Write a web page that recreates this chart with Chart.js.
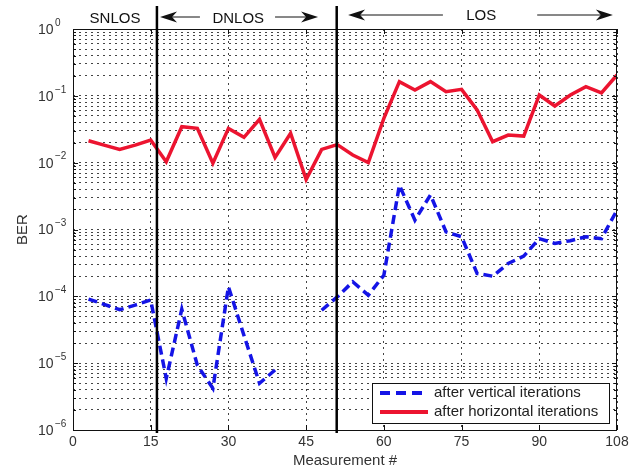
<!DOCTYPE html>
<html>
<head>
<meta charset="utf-8">
<script src="https://cdn.jsdelivr.net/npm/chart.js@4.4.0/dist/chart.umd.min.js"></script>
<style>
  html, body { margin: 0; padding: 0; background: #fff; }
  #wrap { width: 642px; height: 470px; }
</style>
</head>
<body>
<div id="wrap"><canvas id="berChart" width="642" height="470"></canvas></div>
<script>
// measurement index (x) and BER per series
const measurements = [3, 6, 9, 12, 15, 18, 21, 24, 27, 30, 33, 36, 39, 42, 45, 48, 51, 54,
    57, 60, 63, 66, 69, 72, 75, 78, 81, 84, 87, 90, 93, 96, 99, 102, 105];
const berVertical = [9.1e-5, 7.6e-5, 6.3e-5, 7.4e-5, 8.8e-5, 5.9e-6, 6.4e-5, 9.3e-6, 4.2e-6,
    1.39e-4, 2.6e-5, 5.0e-6, 7.9e-6, null, null, 6.2e-5, 9.8e-5, 1.65e-4, 1.04e-4, 2.07e-4,
    4.6e-3, 1.38e-3, 3.3e-3, 9.2e-4, 7.8e-4, 2.2e-4, 2.0e-4, 3.1e-4, 4.0e-4, 7.3e-4, 6.2e-4,
    6.8e-4, 7.8e-4, 7.3e-4, 1.95e-3];
const berHorizontal = [0.0213, 0.0183, 0.0158, 0.0183, 0.0218, 0.0103, 0.0345, 0.0326, 0.0098,
    0.0326, 0.0239, 0.0445, 0.0120, 0.0275, 0.0056, 0.0158, 0.0186, 0.0130, 0.0100, 0.046,
    0.163, 0.122, 0.163, 0.115, 0.125, 0.0613, 0.0206, 0.0259, 0.025, 0.103, 0.0704, 0.103,
    0.137, 0.111, 0.205];

const xTickValues = [0, 15, 30, 45, 60, 75, 90, 105];
const xTickLabels = ['0', '15', '30', '45', '60', '75', '90', '108'];
const yDecades = [-6, -5, -4, -3, -2, -1, 0];
const yMantissas = [1, 2, 3, 4, 5, 6, 7, 8, 9];

const regionBounds = [16.2, 50.9];
const regionNames = ['SNLOS', 'DNLOS', 'LOS'];
const seriesNames = ['after vertical iterations', 'after horizontal iterations'];

const FONT = "'Liberation Sans', Arial, Helvetica, sans-serif";
Chart.defaults.font.family = FONT;
Chart.defaults.color = '#333';

function isDecade(v) {
    const l = Math.log10(v);
    return Math.abs(l - Math.round(l)) < 1e-6;
}

function arrow(ctx, x1, x2, y) {
    // line from x1 to tip x2
    const dir = x2 > x1 ? -1 : 1;
    ctx.beginPath();
    ctx.moveTo(x1, y); ctx.lineTo(x2 + dir * 8, y);
    ctx.stroke();
    ctx.beginPath();
    ctx.moveTo(x2, y);
    ctx.lineTo(x2 + dir * 17, y - 5.5);
    ctx.lineTo(x2 + dir * 12, y);
    ctx.lineTo(x2 + dir * 17, y + 5.5);
    ctx.closePath();
    ctx.fill();
}

const decorPlugin = {
    id: 'berDecor',
    afterDatasetsDraw(chart) {
        const { ctx, chartArea: a, scales: { x, y } } = chart;
        ctx.save();
        ctx.strokeStyle = '#111';
        ctx.lineWidth = 1;
        ctx.strokeRect(a.left + 0.5, a.top + 0.5, a.right - a.left - 1, a.bottom - a.top);

        // inner ticks like matlab
        ctx.beginPath();
        y.ticks.forEach(t => {
            const py = Math.round(y.getPixelForValue(t.value)) + 0.5;
            const len = isDecade(t.value) ? 5 : 3;
            ctx.moveTo(a.left, py); ctx.lineTo(a.left + len, py);
            ctx.moveTo(a.right, py); ctx.lineTo(a.right - len, py);
        });
        x.ticks.forEach(t => {
            const px = Math.round(x.getPixelForValue(t.value)) + 0.5;
            ctx.moveTo(px, a.bottom); ctx.lineTo(px, a.bottom - 5);
            ctx.moveTo(px, a.top); ctx.lineTo(px, a.top + 5);
        });
        ctx.stroke();

        // region separators
        ctx.strokeStyle = '#000';
        ctx.lineWidth = 2.5;
        regionBounds.forEach(b => {
            const px = x.getPixelForValue(b);
            ctx.beginPath();
            ctx.moveTo(px, 6); ctx.lineTo(px, a.bottom + 3);
            ctx.stroke();
        });
        ctx.restore();
    },
    afterDraw(chart) {
        const { ctx, chartArea: a, scales: { x, y } } = chart;
        ctx.save();

        // y tick labels 10^n
        ctx.fillStyle = '#333';
        yDecades.forEach(e => {
            const py = y.getPixelForValue(Math.pow(10, e));
            ctx.font = '14px ' + FONT;
            ctx.textAlign = 'left';
            ctx.textBaseline = 'middle';
            ctx.fillText('10', 38, py + 1);
            ctx.font = '10px ' + FONT;
            ctx.fillText(e === 0 ? '0' : '\u2212' + (-e), 55, py - 6);
        });

        // region titles and arrows
        ctx.fillStyle = '#111';
        ctx.strokeStyle = '#111';
        ctx.lineWidth = 1;
        ctx.font = '15px ' + FONT;
        ctx.textAlign = 'center';
        ctx.textBaseline = 'middle';
        ctx.fillText(regionNames[0], x.getPixelForValue(8.1), 19);
        ctx.fillText(regionNames[1], x.getPixelForValue(31.9), 19);
        ctx.fillText(regionNames[2], x.getPixelForValue(78.8), 16);
        arrow(ctx, x.getPixelForValue(24.5), x.getPixelForValue(16.8), 17);
        arrow(ctx, x.getPixelForValue(39), x.getPixelForValue(47.3), 17);
        arrow(ctx, x.getPixelForValue(71.4), x.getPixelForValue(53.1), 15);
        arrow(ctx, x.getPixelForValue(89.6), x.getPixelForValue(104.2), 15);

        // legend box inside the axes
        const lx = a.right - 245, ly = a.bottom - 47, lw = 237, lh = 40;
        ctx.fillStyle = '#fff';
        ctx.fillRect(lx, ly, lw, lh);
        ctx.strokeRect(lx + 0.5, ly + 0.5, lw, lh);
        const ds = chart.data.datasets;
        [0, 1].forEach(i => {
            const ry = ly + 10 + i * 19;
            ctx.strokeStyle = ds[i].borderColor;
            ctx.lineWidth = 4;
            ctx.setLineDash(i === 0 ? [10, 6] : []);
            ctx.beginPath();
            ctx.moveTo(lx + 8, ry); ctx.lineTo(lx + 56, ry);
            ctx.stroke();
            ctx.setLineDash([]);
            ctx.fillStyle = '#222';
            ctx.textAlign = 'left';
            ctx.fillText(seriesNames[i], lx + 62, ry);
        });
        ctx.restore();
    }
};

const ctx = document.getElementById('berChart').getContext('2d');
new Chart(ctx, {
    type: 'line',
    data: {
        datasets: [{
            label: seriesNames[0],
            data: measurements.map((m, i) => ({ x: m, y: berVertical[i] })),
            borderColor: '#1414e6',
            borderWidth: 3.5,
            borderDash: [9, 5],
            pointRadius: 0,
            tension: 0,
            spanGaps: false,
        }, {
            label: seriesNames[1],
            data: measurements.map((m, i) => ({ x: m, y: berHorizontal[i] })),
            borderColor: '#ec1430',
            borderWidth: 3.5,
            pointRadius: 0,
            tension: 0,
        }],
    },
    options: {
        responsive: false,
        animation: false,
        devicePixelRatio: 1,
        layout: { padding: { top: 29, right: 25, left: 0, bottom: 0 } },
        plugins: { legend: { display: false }, tooltip: { enabled: false } },
        scales: {
            x: {
                type: 'linear', min: 0, max: 105,
                afterBuildTicks: s => { s.ticks = xTickValues.map(v => ({ value: v })); },
                afterFit: s => { s.height = 40; },
                grid: { color: '#444', drawTicks: false },
                border: { display: false, dash: [2, 4] },
                ticks: {
                    autoSkip: false, maxRotation: 0, padding: 4,
                    font: { size: 14 }, color: '#333',
                    callback: (v, i) => xTickLabels[i],
                },
                title: { display: true, text: 'Measurement #', font: { size: 15 }, color: '#333', padding: { top: 0, bottom: 0 } },
            },
            y: {
                type: 'logarithmic', min: 1e-6, max: 1,
                afterBuildTicks: s => {
                    const t = [];
                    yDecades.slice(0, -1).forEach(e => yMantissas.forEach(m => t.push({ value: m * Math.pow(10, e) })));
                    t.push({ value: 1 });
                    s.ticks = t;
                },
                afterFit: s => { s.width = 73; },
                grid: { color: '#444', drawTicks: false },
                border: { display: false, dash: [2, 4] },
                ticks: { display: false, autoSkip: false },
                title: { display: true, text: 'BER', font: { size: 15 }, color: '#333', padding: { top: 14, bottom: 0 } },
            },
        },
    },
    plugins: [decorPlugin],
});
</script>
</body>
</html>
